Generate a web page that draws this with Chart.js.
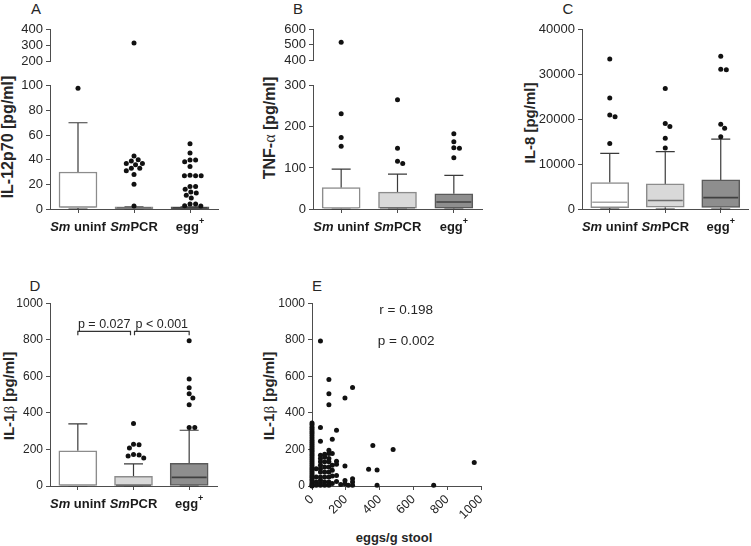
<!DOCTYPE html>
<html>
<head>
<meta charset="utf-8">
<script src="https://cdn.jsdelivr.net/npm/chart.js@4.4.1/dist/chart.umd.min.js"></script>
<style>
  html, body { margin: 0; padding: 0; background: #fff; }
  #fig { position: relative; width: 751px; height: 546px; overflow: hidden;
         font-family: 'Liberation Sans', Arial, Helvetica, sans-serif; color: #262626; }
  #fig canvas { position: absolute; }
  .lbl { position: absolute; white-space: nowrap; transform: translate(-50%, -50%); line-height: 1; }
  .panel { font-size: 15px; }
  .ytitle { font-weight: bold; transform: translate(-50%, -50%) rotate(-90deg); }
  .xtitle { font-weight: bold; font-size: 13px; }
  .greek { font-family: 'Liberation Serif', 'DejaVu Serif', serif; font-weight: normal; }
</style>
</head>
<body>
<div id="fig">
  <div class="lbl panel" style="left:36px;top:8px">A</div>
  <div class="lbl panel" style="left:298px;top:8px">B</div>
  <div class="lbl panel" style="left:568px;top:8px">C</div>
  <div class="lbl panel" style="left:35px;top:285px">D</div>
  <div class="lbl panel" style="left:317px;top:285px">E</div>

  <div class="lbl ytitle" style="left:8px;top:137px;font-size:16px">IL-12p70 [pg/ml]</div>
  <div class="lbl ytitle" style="left:270px;top:128px;font-size:16px">TNF-<span class="greek">α</span> [pg/ml]</div>
  <div class="lbl ytitle" style="left:529px;top:123px;font-size:15px">IL-8 [pg/ml]</div>
  <div class="lbl ytitle" style="left:9px;top:396px;font-size:15px">IL-1<span class="greek">β</span> [pg/ml]</div>
  <div class="lbl ytitle" style="left:269px;top:396px;font-size:15px">IL-1<span class="greek">β</span> [pg/ml]</div>
  <div class="lbl xtitle" style="left:394px;top:537px">eggs/g stool</div>
</div>
<script>
// groups on the x axis of panels A-D
const groups = ['Sm uninf', 'SmPCR', 'egg+'];

// A: IL-12p70 [pg/ml]
const il12Low = [0, 0, 0];
const il12Q1 = [1.2, 0.3, 0.3];
const il12Median = [1.5, 1, 1];
const il12Q3 = [30, 1.7, 1.7];
const il12High = [70, 1.7, 1.7];
const il12Outliers = [
  [98],
  [315, 43, 40, 39, 37, 37, 36, 33, 33, 31, 28, 20, 2.4],
  [53, 45.5, 39.7, 39.7, 38.3, 34.4, 27.4, 27, 27, 27, 18.3, 18.3, 16, 13.8, 12.9, 11.1, 9, 4, 4, 2.7, 2.4]
];

// B: TNF-alpha [pg/ml]
const tnfLow = [0, 0, 0];
const tnfQ1 = [2, 2, 2];
const tnfMedian = [3, 3, 17];
const tnfQ3 = [52, 41, 37];
const tnfHigh = [97, 85, 82];
const tnfOutliers = [
  [517, 232, 174, 153],
  [266, 148, 116, 111],
  [183, 164, 149, 148, 125]
];

// C: IL-8 [pg/ml]
const il8Low = [0, 0, 0];
const il8Q1 = [300, 400, 350];
const il8Median = [1500, 1900, 2550];
const il8Q3 = [5900, 5600, 6500];
const il8High = [12400, 12800, 15600];
const il8Outliers = [
  [33500, 24800, 21000, 20600, 14600],
  [26900, 19100, 18400, 15800, 13600],
  [34100, 31200, 31100, 18900, 18000, 16100]
];

// D: IL-1beta [pg/ml]
const il1Low = [0, 0, 0];
const il1Q1 = [3, 3, 3];
const il1Median = [4, 4, 47];
const il1Q3 = [193, 53, 124];
const il1High = [340, 121, 305];
const il1Outliers = [
  [],
  [342, 229, 225, 208, 172, 170, 164, 153],
  [795, 585, 537, 504, 481, 444, 320, 320]
];
const il1Pairs = [[0, 1], [1, 2]];
const il1PValues = ['p = 0.027', 'p < 0.001'];
const il1BracketLevel = 846;

// E: IL-1beta vs eggs/g stool
const eggsPerGram = [
  0, 0, 0, 0, 0, 0, 0, 0, 0, 0, 0, 0, 0, 0, 0, 0, 0,
  0, 0, 0, 0, 0, 0, 0, 0, 0, 0, 0, 0, 0, 0, 0, 0, 0,
  50, 50, 50, 50, 50, 50, 50, 50, 50, 50, 50, 50, 50,
  25, 25, 25, 25,
  75, 75, 75, 75, 75, 75, 75, 75,
  100, 100, 100, 100, 100, 100, 100, 100, 100, 100, 100, 100,
  120, 120, 120, 120, 120, 120,
  145, 145, 145, 145, 145,
  170,
  195, 195, 195, 195,
  215,
  240, 240, 240, 240,
  335, 360, 385, 385, 480, 720, 960
];
const il1bStool = [
  345, 335, 322, 310, 298, 287, 275, 262, 250, 240, 228, 218, 207, 196, 186, 175, 165,
  154, 143, 132, 122, 111, 100, 90, 80, 69, 58, 48, 37, 27, 16, 8, 2, 0,
  793, 320, 245, 168, 150, 132, 113, 95, 77, 49, 31, 16, 4,
  95, 49, 22, 4,
  174, 159, 132, 104, 77, 49, 22, 4,
  583, 504, 444, 196, 178, 150, 132, 104, 77, 49, 22, 4,
  256, 178, 113, 86, 55, 13,
  305, 135, 119, 57, 24,
  8,
  482, 110, 30, 12,
  4,
  539, 40, 22, 4,
  92, 222, 88, 4, 200, 4, 128
];
const corrText = ['r = 0.198', 'p = 0.002'];

// ---------------------------------------------------------------

Chart.defaults.font.family = "'Liberation Sans', Arial, Helvetica, sans-serif";
Chart.defaults.font.size = 12;
Chart.defaults.color = '#262626';

const AXIS = '#4d4d4d';
const boxFill = ['#ffffff', '#d9d9d9', '#8e8e8e'];
const boxEdge = ['#8c8c8c', '#8c8c8c', '#5a5a5a'];
const medianEdge = ['#a6a6a6', '#6e6e6e', '#404040'];
const whiskerColor = '#3a3a3a';
const dotColor = '#111111';
const boxWidth = 38;
const dotSize = 5.6;
const dotRadius = 2.5;
const FONT = "'Liberation Sans', Arial, Helvetica, sans-serif";
const plainNumber = v => String(v);

const fig = document.getElementById('fig');

function makeCanvas(area, pad) {
  const c = document.createElement('canvas');
  const w = pad.left + (area.r - area.l) + pad.right;
  const h = pad.top + (area.b - area.t) + pad.bottom;
  c.width = w;
  c.height = h;
  c.style.left = (area.l - pad.left) + 'px';
  c.style.top = (area.t - pad.top) + 'px';
  c.style.width = w + 'px';
  c.style.height = h + 'px';
  fig.appendChild(c);
  return c;
}

function yAxis(min, max, step, pad, size) {
  return {
    type: 'linear', min: min, max: max,
    ticks: { stepSize: step, padding: 3, autoSkip: false, callback: plainNumber, font: { size: size } },
    grid: { drawOnChartArea: false, drawTicks: true, tickLength: 4, color: AXIS },
    border: { display: true, color: AXIS, width: 1 },
    afterFit: s => { s.width = pad.left; }
  };
}

function groupAxis(pad, visible) {
  return {
    type: 'linear', min: -0.5, max: groups.length - 0.5, display: visible, offset: false,
    afterBuildTicks: s => { s.ticks = groups.map((g, i) => ({ value: i })); },
    ticks: { display: false },
    grid: { drawOnChartArea: false, drawTicks: true, tickLength: 4, color: AXIS, offset: false },
    border: { display: true, color: AXIS, width: 1 },
    afterFit: s => { s.height = pad.bottom; }
  };
}

// simple beeswarm: pixel offsets so that dots of diameter d do not overlap
function swarm(pys, d) {
  const order = pys.map((p, i) => i).sort((a, b) => pys[a] - pys[b]);
  const placed = [];
  const offs = new Array(pys.length);
  order.forEach(i => {
    const py = pys[i];
    const near = placed.filter(p => Math.abs(p.py - py) < d);
    const cands = [0];
    near.forEach(p => {
      const dx = Math.sqrt(d * d - (p.py - py) * (p.py - py));
      cands.push(p.px + dx, p.px - dx);
    });
    cands.sort((a, b) => Math.abs(a) - Math.abs(b));
    const px = cands.find(c => near.every(p => Math.hypot(p.px - c, p.py - py) >= d - 0.01));
    placed.push({ px: px, py: py });
    offs[i] = px;
  });
  return offs;
}

function drawGroupLabel(ctx, label, cx, cy, size) {
  const parts = [];
  let rest = label;
  if (rest.startsWith('Sm')) { parts.push({ t: 'Sm', italic: true }); rest = rest.slice(2); }
  let sup = null;
  if (rest.endsWith('+')) { sup = '+'; rest = rest.slice(0, -1); }
  parts.push({ t: rest });
  if (sup) parts.push({ t: sup, sup: true });
  const fontOf = p => (p.italic ? 'italic ' : '') + 'bold ' + (p.sup ? Math.round(size * 0.7) : size) + 'px ' + FONT;
  let total = 0;
  parts.forEach(p => { ctx.font = fontOf(p); p.w = ctx.measureText(p.t).width; total += p.w; });
  let x = cx - total / 2;
  ctx.textAlign = 'left';
  ctx.textBaseline = 'middle';
  ctx.fillStyle = '#1a1a1a';
  parts.forEach(p => {
    ctx.font = fontOf(p);
    ctx.fillText(p.t, x, p.sup ? cy - size * 0.42 : cy);
    x += p.w;
  });
}

function boxParts(cfg) {
  return {
    id: 'boxParts',
    beforeDatasetsDraw(chart) {
      if (!cfg.stats) return;
      const { ctx, chartArea: a, scales: { x, y } } = chart;
      const half = boxWidth / 4;
      ctx.save();
      ctx.beginPath();
      ctx.rect(a.left, a.top - 1, a.right - a.left, a.bottom - a.top + 2);
      ctx.clip();
      ctx.strokeStyle = whiskerColor;
      ctx.lineWidth = 1.2;
      groups.forEach((g, i) => {
        const cx = x.getPixelForValue(i);
        [[cfg.stats.q3[i], cfg.stats.hi[i]], [cfg.stats.q1[i], cfg.stats.lo[i]]].forEach(seg => {
          const y0 = y.getPixelForValue(seg[0]);
          const y1 = y.getPixelForValue(seg[1]);
          ctx.beginPath();
          ctx.moveTo(cx, y0);
          ctx.lineTo(cx, y1);
          ctx.moveTo(cx - half, y1);
          ctx.lineTo(cx + half, y1);
          ctx.stroke();
        });
      });
      ctx.restore();
    },
    afterDatasetDraw(chart, args) {
      if (!cfg.stats || args.meta.type !== 'bar') return;
      const { ctx, scales: { x, y } } = chart;
      ctx.save();
      ctx.lineWidth = 1.6;
      groups.forEach((g, i) => {
        const cx = x.getPixelForValue(i);
        const my = y.getPixelForValue(cfg.stats.med[i]);
        ctx.strokeStyle = medianEdge[i];
        ctx.beginPath();
        ctx.moveTo(cx - boxWidth / 2 + 1.5, my);
        ctx.lineTo(cx + boxWidth / 2 - 1.5, my);
        ctx.stroke();
      });
      ctx.restore();
    },
    afterDraw(chart) {
      const { ctx, chartArea: a, scales: { x, y } } = chart;
      ctx.save();
      if (cfg.showX) {
        groups.forEach((g, i) => drawGroupLabel(ctx, g, x.getPixelForValue(i), a.bottom + 18, cfg.labelSize));
      }
      if (cfg.pairs) {
        const yTop = y.getPixelForValue(cfg.bracketLevel);
        const yDrop = yTop + 4;
        ctx.strokeStyle = '#333';
        ctx.lineWidth = 1.2;
        ctx.fillStyle = '#262626';
        ctx.font = '12.5px ' + FONT;
        ctx.textAlign = 'center';
        ctx.textBaseline = 'alphabetic';
        cfg.pairs.forEach((pr, k) => {
          let x0 = x.getPixelForValue(pr[0]);
          let x1 = x.getPixelForValue(pr[1]);
          if (cfg.pairs.some(o => o[0] === pr[1])) x1 -= 3;
          if (cfg.pairs.some(o => o[1] === pr[0])) x0 += 1;
          ctx.beginPath();
          ctx.moveTo(x0, yDrop);
          ctx.lineTo(x0, yTop);
          ctx.lineTo(x1, yTop);
          ctx.lineTo(x1, yDrop);
          ctx.stroke();
          ctx.fillText(cfg.pValues[k], (x0 + x1) / 2, yTop - 3);
        });
      }
      ctx.restore();
    }
  };
}

function boxPanel(cfg) {
  const canvas = makeCanvas(cfg.area, cfg.pad);
  const inRange = [];
  cfg.outliers.forEach((vals, g) => vals.forEach(v => {
    if (v >= cfg.yMin && v <= cfg.yMax) inRange.push({ g: g, v: v });
  }));
  const datasets = [{
    type: 'scatter', order: 0, clip: false,
    data: inRange.map(p => ({ x: p.g, y: p.v })),
    pointRadius: dotRadius, pointHoverRadius: dotRadius, pointBorderWidth: 0,
    pointBackgroundColor: dotColor
  }];
  if (cfg.stats) {
    datasets.push({
      type: 'bar', order: 1,
      data: groups.map((g, i) => ({ x: i, y: [cfg.stats.q1[i], cfg.stats.q3[i]] })),
      backgroundColor: boxFill, borderColor: boxEdge, borderWidth: 1.5,
      borderSkipped: false, barThickness: boxWidth
    });
  }
  const chart = new Chart(canvas, {
    type: 'bar',
    data: { datasets: datasets },
    options: {
      responsive: false, animation: false,
      layout: { padding: { top: cfg.pad.top, right: cfg.pad.right, left: 0, bottom: cfg.showX ? 0 : cfg.pad.bottom } },
      plugins: { legend: { display: false }, tooltip: { enabled: false } },
      scales: {
        x: groupAxis(cfg.pad, cfg.showX),
        y: yAxis(cfg.yMin, cfg.yMax, cfg.yStep, cfg.pad, cfg.tickSize)
      }
    },
    plugins: [boxParts(cfg)]
  });
  // spread the dots of each group sideways
  const xs = chart.scales.x, ys = chart.scales.y;
  const unit = xs.getPixelForValue(1) - xs.getPixelForValue(0);
  const data = chart.data.datasets[0].data;
  groups.forEach((g, gi) => {
    const idx = inRange.map((p, k) => k).filter(k => inRange[k].g === gi);
    const offs = swarm(idx.map(k => ys.getPixelForValue(inRange[k].v)), dotSize);
    idx.forEach((k, j) => { data[k].x = gi + offs[j] / unit; });
  });
  chart.update('none');
  return chart;
}

const il12Stats = { lo: il12Low, q1: il12Q1, med: il12Median, q3: il12Q3, hi: il12High };
const tnfStats = { lo: tnfLow, q1: tnfQ1, med: tnfMedian, q3: tnfQ3, hi: tnfHigh };
const il8Stats = { lo: il8Low, q1: il8Q1, med: il8Median, q3: il8Q3, hi: il8High };
const il1Stats = { lo: il1Low, q1: il1Q1, med: il1Median, q3: il1Q3, hi: il1High };

// A (broken axis: upper + lower part)
boxPanel({ area: { l: 50, t: 27, r: 218, b: 69 }, pad: { left: 50, top: 8, right: 6, bottom: 8 },
  yMin: 200, yMax: 400, yStep: 100, tickSize: 13, outliers: il12Outliers, showX: false });
boxPanel({ area: { l: 50, t: 83, r: 218, b: 209 }, pad: { left: 50, top: 8, right: 6, bottom: 32 },
  yMin: 0, yMax: 100, yStep: 20, tickSize: 13, outliers: il12Outliers, stats: il12Stats,
  showX: true, labelSize: 13 });

// B (broken axis)
boxPanel({ area: { l: 313, t: 27, r: 482, b: 68 }, pad: { left: 60, top: 8, right: 6, bottom: 8 },
  yMin: 400, yMax: 600, yStep: 100, tickSize: 13, outliers: tnfOutliers, showX: false });
boxPanel({ area: { l: 313, t: 83, r: 482, b: 209 }, pad: { left: 60, top: 8, right: 6, bottom: 32 },
  yMin: 0, yMax: 300, yStep: 100, tickSize: 13, outliers: tnfOutliers, stats: tnfStats,
  showX: true, labelSize: 13 });

// C
boxPanel({ area: { l: 582, t: 27, r: 751, b: 209 }, pad: { left: 60, top: 8, right: 0, bottom: 32 },
  yMin: 0, yMax: 40000, yStep: 10000, tickSize: 13, outliers: il8Outliers, stats: il8Stats,
  showX: true, labelSize: 13 });

// D
boxPanel({ area: { l: 50, t: 303, r: 217, b: 486 }, pad: { left: 50, top: 10, right: 6, bottom: 32 },
  yMin: 0, yMax: 1000, yStep: 200, tickSize: 12, outliers: il1Outliers, stats: il1Stats,
  showX: true, labelSize: 13, pairs: il1Pairs, pValues: il1PValues, bracketLevel: il1BracketLevel });

// E scatter
const eArea = { l: 312, t: 303, r: 481, b: 486 };
const ePad = { left: 60, top: 10, right: 14, bottom: 36 };
new Chart(makeCanvas(eArea, ePad), {
  type: 'scatter',
  data: {
    datasets: [{
      data: eggsPerGram.map((e, i) => ({ x: e, y: il1bStool[i] })),
      clip: false,
      pointRadius: dotRadius, pointHoverRadius: dotRadius, pointBorderWidth: 0,
      pointBackgroundColor: dotColor
    }]
  },
  options: {
    responsive: false, animation: false,
    layout: { padding: { top: ePad.top, right: ePad.right, left: 0, bottom: 0 } },
    plugins: { legend: { display: false }, tooltip: { enabled: false } },
    scales: {
      x: {
        type: 'linear', min: 0, max: 1000,
        ticks: { stepSize: 200, minRotation: 45, maxRotation: 45, padding: 2, autoSkip: false,
                 callback: plainNumber, font: { size: 12.5 } },
        grid: { drawOnChartArea: false, drawTicks: true, tickLength: 4, color: AXIS },
        border: { display: true, color: AXIS, width: 1 },
        afterFit: s => { s.height = ePad.bottom; }
      },
      y: yAxis(0, 1000, 200, ePad, 12)
    }
  },
  plugins: [{
    id: 'corrText',
    afterDraw(chart) {
      const { ctx, scales: { x, y } } = chart;
      ctx.save();
      ctx.font = '13.5px ' + FONT;
      ctx.fillStyle = '#262626';
      ctx.textAlign = 'center';
      ctx.textBaseline = 'middle';
      ctx.fillText(corrText[0], x.getPixelForValue(557), y.getPixelForValue(963));
      ctx.fillText(corrText[1], x.getPixelForValue(557), y.getPixelForValue(793));
      ctx.restore();
    }
  }]
});
</script>
</body>
</html>
